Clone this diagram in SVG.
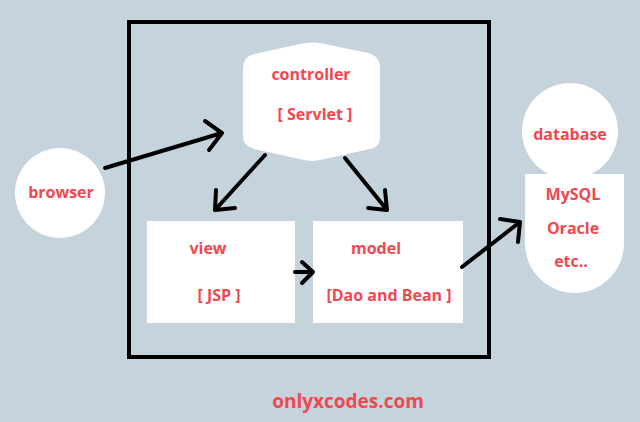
<svg xmlns="http://www.w3.org/2000/svg" width="640" height="422" viewBox="0 0 640 422">
<style>
text{font-family:"Open Sans","DejaVu Sans",sans-serif;font-weight:bold;font-size:16px;fill:#f2474f;text-anchor:middle}
.n{fill:#fff}
.c path{fill:none;stroke:#000;stroke-width:4;stroke-linecap:round;stroke-linejoin:round}
</style>
<rect width="640" height="422" fill="#c5d3dd"/>
<rect x="129" y="22" width="360" height="335" fill="none" stroke="#000" stroke-width="4"/>
<g id="controller"><path class="n" d="M254 54 L305 43 Q312 42 320 43 L368 53 Q380 56 380 68 L380 138 Q380 147 370 149 L320 160 Q312 162 304 160 L254 149 Q243 146 243 136 L243 68 Q243 57 254 54 Z"/><text x="311" y="80">controller</text><text x="315" y="120">[ Servlet ]</text></g>
<g id="browser"><circle class="n" cx="60" cy="193" r="45"/><text x="61" y="198">browser</text></g>
<g id="view"><rect class="n" x="147" y="221" width="148" height="102"/><text x="208" y="254">view</text><text x="219" y="301">[ JSP ]</text></g>
<g id="model"><rect class="n" x="313" y="221" width="150" height="102"/><text x="376" y="254">model</text><text x="389" y="301">[Dao and Bean ]</text></g>
<g id="database"><circle class="n" cx="570" cy="131" r="48"/><path class="n" d="M525 174 H624 V243 A49.5 50 0 0 1 525 243 Z"/><text x="570" y="140">database</text><text x="573" y="200">MySQL</text><text x="573" y="234">Oracle</text><text x="571" y="267">etc..</text></g>
<g class="c">
<path d="M105 168 L222 133 M205 121 L222 133 L209 150"/>
<path d="M265 155 L215 210 M216 190 L215 210 L235 208"/>
<path d="M345 158 L387 210 M368 208 L387 210 L385 190"/>
<path d="M295 272 L313 272 M302 262 L313 272 L302 283"/>
<path d="M462 267 L520 222 M500 219 L520 222 L518 242"/>
</g>
<text x="348" y="408" style="font-size:19px">onlyxcodes.com</text>
</svg>
